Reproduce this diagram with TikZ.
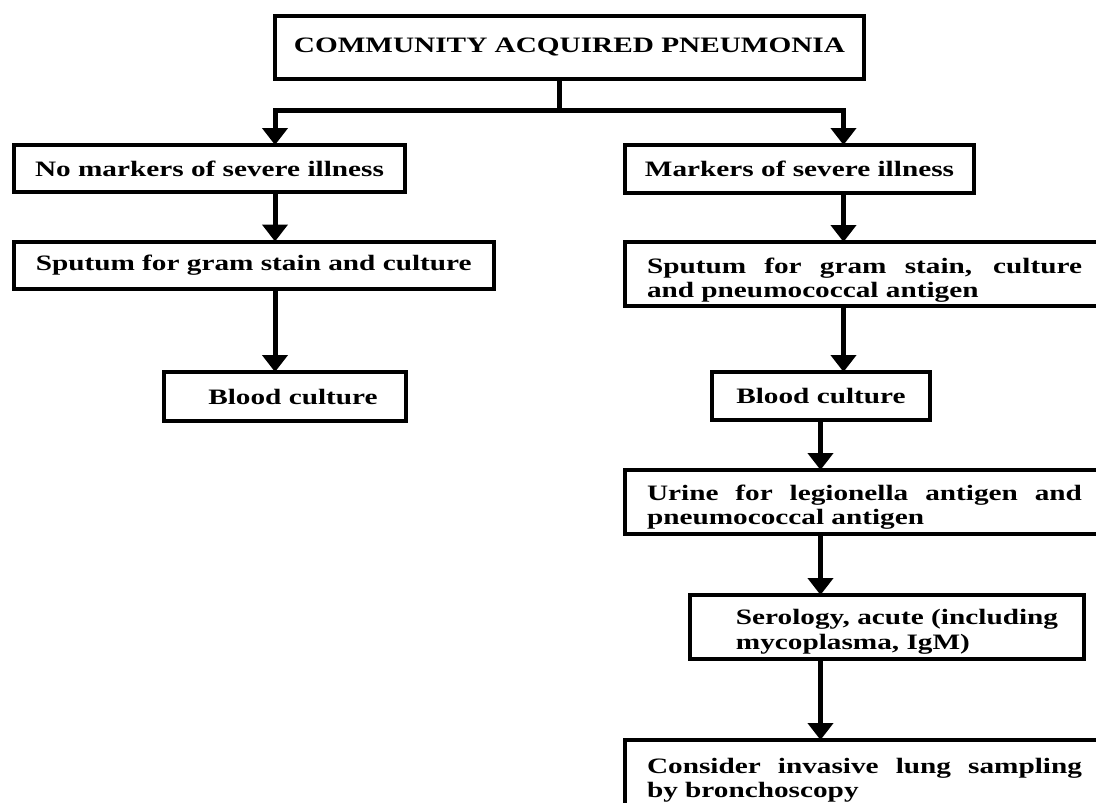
\documentclass[tikz,border=0pt]{standalone}
\usepackage{fontspec}
\setmainfont{Liberation Serif}[FakeStretch=1.33]
\usetikzlibrary{arrows.meta}
\begin{document}
\begin{tikzpicture}[x=1pt,y=-1pt,
  box/.style={draw, line width=4pt, inner sep=0pt, outer sep=0pt,
    font=\fontsize{22}{24.5}\selectfont\bfseries},
  jbox/.style={box, inner xsep=22pt, text width=435pt, align=justify,
    execute at begin node={\tolerance=10000\hyphenpenalty=10000}},
  conn/.style={line width=5pt},
  arr/.style={line width=5pt, -{Triangle[width=25pt,length=17pt]}}]
\useasboundingbox (0,0) rectangle (1096,803);
\clip (0,0) rectangle (1096,803);

% boxes
\node[box, minimum width=589pt, minimum height=63pt] (cap) at (569.5,47.5)
  {\raisebox{3pt}{COMMUNITY ACQUIRED PNEUMONIA}};
\node[box, minimum width=391pt, minimum height=47pt] (L1) at (209.5,168.5)
  {No markers of severe illness};
\node[box, minimum width=479.5pt, minimum height=47pt] (L2) at (253.75,265)
  {Sputum for gram stain and culture};
\node[box, minimum width=242pt, minimum height=49pt] (L3) at (285,396.5)
  {\hspace*{16pt}Blood culture};

\node[box, minimum width=349pt, minimum height=47.5pt] (R1) at (799.5,168.75)
  {Markers of severe illness};
\node[jbox, minimum height=64pt] (R2) at (864.5,274)
  {\rule{0pt}{28pt}Sputum for gram stain, culture\linebreak and pneumococcal antigen};
\node[box, minimum width=218pt, minimum height=48pt] (R3) at (821,396)
  {Blood culture};
\node[jbox, minimum height=64pt] (R4) at (864.5,502)
  {\rule{0pt}{26pt}Urine for legionella antigen and\linebreak pneumococcal antigen};
\node[box, minimum width=394pt, minimum height=64pt, align=left] (R5) at (887,627)
  {\hspace*{20pt}\rule{0pt}{25pt}Serology, acute (including\\\hspace*{20pt}mycoplasma, IgM)};
\node[jbox, minimum height=68pt] (R6) at (864.5,774)
  {\rule{0pt}{28pt}Consider invasive lung sampling\linebreak by bronchoscopy};

% connectors
\coordinate (j) at (559,110.5);
\coordinate (jl) at (275,110.5);
\coordinate (jr) at (843.5,110.5);
\coordinate (xl) at (275,0);
\coordinate (xr) at (843.5,0);
\coordinate (xs) at (820.5,0);

\draw[conn] (j |- cap.south) -- (j);
\draw[arr] (j) -| (jl |- L1.north);
\draw[arr] (j) -| (jr |- R1.north);

\draw[arr] (xl |- L1.south) -- (xl |- L2.north);
\draw[arr] (xl |- L2.south) -- (xl |- L3.north);

\draw[arr] (xr |- R1.south) -- (xr |- R2.north);
\draw[arr] (xr |- R2.south) -- (xr |- R3.north);
\draw[arr] (xs |- R3.south) -- (xs |- R4.north);
\draw[arr] (xs |- R4.south) -- (xs |- R5.north);
\draw[arr] (xs |- R5.south) -- (xs |- R6.north);
\end{tikzpicture}
\end{document}
